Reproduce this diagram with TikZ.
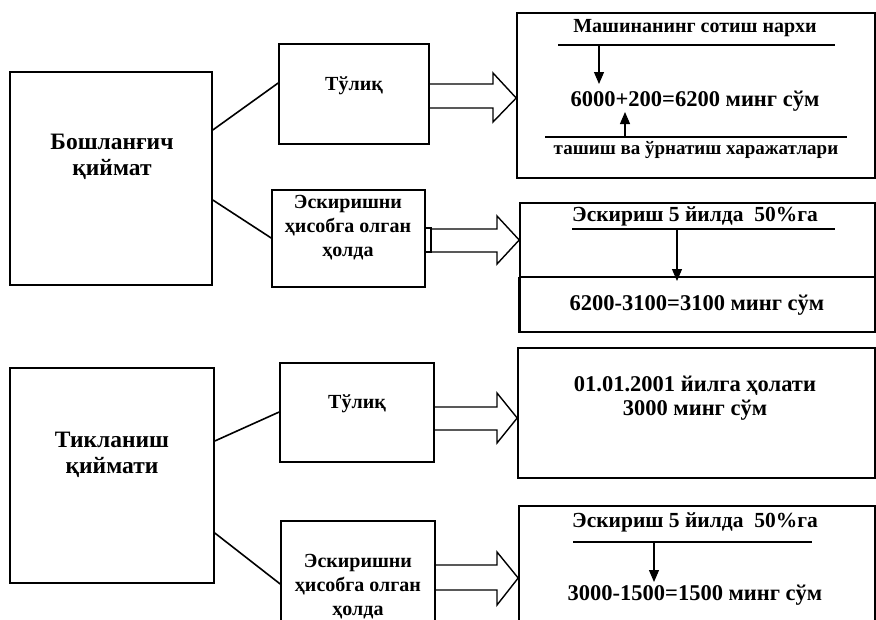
\documentclass[tikz,border=0pt]{standalone}
\usepackage{fontspec}
\setmainfont{Liberation Serif}
\usetikzlibrary{arrows.meta}
\tikzset{
  box/.style={draw, line width=1.6pt, rectangle, inner sep=0pt},
  lbl/.style={font=\bfseries\fontsize{20}{24}\selectfont, align=center, inner sep=0pt},
  num/.style={lbl, font=\bfseries\fontsize{22.5}{24}\selectfont},
  mid/.style={lbl, font=\bfseries\fontsize{21.5}{24}\selectfont},
  big/.style={lbl, font=\bfseries\fontsize{23.5}{26}\selectfont},
  small/.style={lbl, font=\bfseries\fontsize{19}{20}\selectfont},
  conn/.style={line width=1.6pt},
  fat/.style={line width=1.4pt, line join=miter},
  rule/.style={line width=1.3pt},
  ptr/.style={line width=1.1pt, -{Triangle[width=10pt,length=12pt]}},
}
\begin{document}
\begin{tikzpicture}[x=1pt,y=-1pt]
\useasboundingbox (0,0) rectangle (876,619);
\clip (0,0) rectangle (876,619);
\fill[white] (0,0) rectangle (876,619);

% ---- upper group
\node[box, minimum width=202pt, minimum height=213pt] (L1) at (111,178.5) {};
\node[big] (L1t) at (112,157) {Бошланғич\\қиймат};
\node[box, minimum width=150pt, minimum height=100pt] (T1) at (354,94) {};
\node[lbl] (T1t) at (354,86) {Тўлиқ};
\node[box, minimum width=153pt, minimum height=97pt] (E1) at (348.5,238.5) {};
\node[lbl] (E1t) at (348,228) {Эскиришни\\ҳисобга олган\\ҳолда};

\draw[conn] (L1.east |- 0,130) -- (T1.west |- 0,83);
\draw[conn] (L1.east |- 0,200) -- (E1.west |- 0,238);

\node[box, minimum width=358pt, minimum height=165pt] (R1) at (696,95.5) {};
\node[lbl] (R1a) at (695,28) {Машинанинг сотиш нархи};
\node[num] (R1b) at (695,101) {6000+200=6200 минг сўм};
\node[small] (R1c) at (696,150) {ташиш ва ўрнатиш харажатлари};
\coordinate (r1l1a) at (558,45); \coordinate (r1l1b) at (835,45);
\coordinate (r1l2a) at (545,137); \coordinate (r1l2b) at (847,137);
\draw[rule] (r1l1a) -- (r1l1b);
\draw[rule] (r1l2a) -- (r1l2b);
\draw[ptr] (599,45) -- (599,84);
\draw[ptr] (625,137) -- (625,112);

\node[box, minimum width=355pt, minimum height=129pt] (R2) at (697.5,267.5) {};
\node[mid] (R2a) at (695,216) {Эскириш 5 йилда \ 50\%га};
\node[num] (R2b) at (697,305) {6200-3100=3100 минг сўм};
\draw[rule] (572,229) -- (835,229);
\draw[rule] (R2.west |- 0,277) -- (R2.east |- 0,277);
\draw[line width=3pt] (R2.south west) -- (R2.west |- 0,277);
\draw[ptr] (677,229) -- (677,281);

\draw[fat] (T1.east |- 0,84) -- (493,84) -- (493,73) -- (R1.west |- 0,98) -- (493,122) -- (493,108) -- (T1.east |- 0,108);
\draw[fat] (E1.east |- 0,228) -- (431,228) -- (431,252) -- (E1.east |- 0,252);
\draw[fat] (431,229) -- (497,229) -- (497,216) -- (R2.west |- 0,240) -- (497,264) -- (497,252) -- (431,252);

% ---- lower group
\node[box, minimum width=204pt, minimum height=215pt] (L2) at (112,475.5) {};
\node[big] (L2t) at (112,455) {Тикланиш\\қиймати};
\node[box, minimum width=154pt, minimum height=99pt] (T2) at (357,412.5) {};
\node[lbl] (T2t) at (357,404) {Тўлиқ};
\node[box, minimum width=154pt, minimum height=132pt] (E2) at (358,587) {};
\node[lbl] (E2t) at (358,587) {Эскиришни\\ҳисобга олган\\ҳолда};

\draw[conn] (L2.east |- 0,441) -- (T2.west |- 0,412);
\draw[conn] (L2.east |- 0,533) -- (E2.west |- 0,584);

\node[box, minimum width=357pt, minimum height=130pt] (R3) at (696.5,413) {};
\node[num] (R3t) at (695,398) {01.01.2001 йилга ҳолати\\3000 минг сўм};

\node[box, minimum width=356pt, minimum height=154pt] (R4) at (697,583) {};
\node[mid] (R4a) at (695,522) {Эскириш 5 йилда \ 50\%га};
\node[num] (R4b) at (695,595) {3000-1500=1500 минг сўм};
\draw[rule] (573,542) -- (812,542);
\draw[ptr] (654,542) -- (654,582);

\draw[fat] (T2.east |- 0,407) -- (497,407) -- (497,393) -- (R3.west |- 0,418) -- (497,443) -- (497,430) -- (T2.east |- 0,430);
\draw[fat] (E2.east |- 0,565) -- (497,565) -- (497,552) -- (R4.west |- 0,578) -- (497,605) -- (497,590) -- (E2.east |- 0,590);
\end{tikzpicture}
\end{document}
